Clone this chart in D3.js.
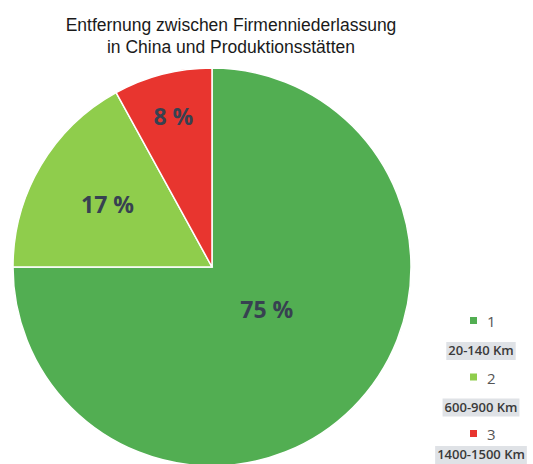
<!DOCTYPE html>
<html>
<head>
<meta charset="utf-8">
<script src="https://cdn.jsdelivr.net/npm/d3@7"></script>
<style>
  body { margin: 0; background: #fff; }
  svg { display: block; }
</style>
</head>
<body>
<div id="chart"></div>
<script>
// Data
const titleLines = ['Entfernung zwischen Firmenniederlassung', 'in China und Produktionsstätten'];
const categories = ['1', '2', '3'];
const ranges = ['20-140 Km', '600-900 Km', '1400-1500 Km'];
const shares = [75, 17, 8];
const colors = ['#52ae52', '#8fcd4c', '#e8352f'];

const width = 533, height = 464;
const cx = 212, cy = 267, radius = 199;

const svg = d3.select('#chart').append('svg')
    .attr('width', width)
    .attr('height', height);

// Title
svg.append('g').selectAll('text')
    .data(titleLines)
  .enter().append('text')
    .attr('x', 231)
    .attr('y', (d, i) => 31 + i * 22)
    .attr('text-anchor', 'middle')
    .style('font-family', '"Liberation Sans", Arial, sans-serif')
    .style('font-size', '17.5px')
    .style('fill', '#1a1a1a')
    .text(d => d);

// Pie
const pie = d3.pie().sort(null).value(d => d);
const arcs = pie(shares);
const arc = d3.arc().innerRadius(0).outerRadius(radius);

const g = svg.append('g')
    .attr('transform', `translate(${cx},${cy})`);

g.selectAll('path')
    .data(arcs)
  .enter().append('path')
    .attr('d', arc)
    .attr('fill', (d, i) => colors[i])
    .attr('stroke', '#fff')
    .attr('stroke-width', 1.5);

// Labels: distance from centre as a fraction of the radius
const labelFrac = [0.35, 0.61, 0.78];
g.selectAll('text.pct')
    .data(arcs)
  .enter().append('text')
    .attr('class', 'pct')
    .attr('transform', (d, i) => {
        const a = (d.startAngle + d.endAngle) / 2 - (i === 0 ? 0.12 : 0);
        const r = radius * labelFrac[i];
        return `translate(${Math.sin(a) * r},${-Math.cos(a) * r})`;
    })
    .attr('dy', '0.35em')
    .attr('text-anchor', 'middle')
    .style('font-family', '"Open Sans", "Noto Sans", sans-serif')
    .style('font-size', '23px')
    .style('font-weight', '700')
    .style('fill', '#374151')
    .text(d => d.data + ' %');

// Legend
const legend = svg.append('g')
    .attr('transform', 'translate(481, 321)');

categories.forEach((c, i) => {
    const item = legend.append('g')
        .attr('transform', `translate(0, ${i * 56.5})`);

    item.append('rect')
        .attr('x', -11)
        .attr('y', -4)
        .attr('width', 7)
        .attr('height', 7)
        .attr('fill', colors[i]);

    item.append('text')
        .attr('x', 6)
        .attr('y', 6)
        .style('font-family', '"Open Sans", "Noto Sans", sans-serif')
        .style('font-size', '15px')
        .style('fill', '#555')
        .text(c);

    const label = item.append('text')
        .attr('x', 0)
        .attr('y', i === 2 ? 25 : 34)
        .attr('text-anchor', 'middle')
        .style('font-family', '"Open Sans", "Noto Sans", sans-serif')
        .style('font-size', '13px')
        .style('font-weight', '600')
        .style('fill', '#3a3a3a')
        .text(ranges[i]);

    const bb = label.node().getBBox();
    item.insert('rect', 'text:last-child')
        .attr('x', bb.x - 2)
        .attr('y', bb.y + 1)
        .attr('width', bb.width + 4)
        .attr('height', bb.height)
        .attr('fill', '#dfe2e6');
});
</script>
</body>
</html>
